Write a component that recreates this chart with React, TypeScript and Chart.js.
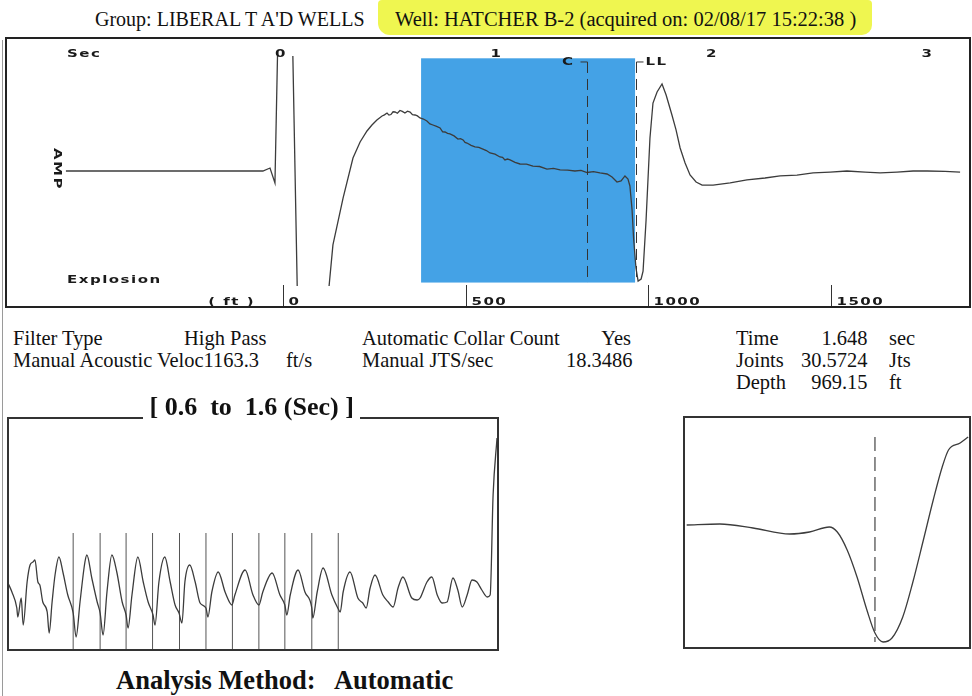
import React, { useEffect, useRef } from "react";
import { Chart, registerables } from "chart.js";

Chart.register(...registerables);

// ---------------- DATA ----------------
// Main acoustic trace (time in sec, amplitude in relative units)
const traceTime = [
  -0.998, -0.084, -0.051, -0.028, -0.011, 0.019, 0.051, 0.079, 0.144, 0.204,
  0.241, 0.288, 0.334, 0.367, 0.399, 0.422, 0.445, 0.469, 0.48, 0.492, 0.501, 0.51,
  0.52, 0.529, 0.54, 0.552, 0.563, 0.575, 0.587, 0.599, 0.61, 0.622, 0.633, 0.645, 0.661, 0.677, 0.691, 0.705, 0.722, 0.738, 0.75, 0.761,
  0.773, 0.784, 0.803, 0.821, 0.833, 0.845, 0.854, 0.863, 0.882, 0.9, 0.918, 0.937, 0.953, 0.97, 0.993, 1.016, 1.028, 1.039, 1.051, 1.063,
  1.086, 1.109, 1.139, 1.169, 1.2, 1.234, 1.264, 1.295, 1.33, 1.364, 1.392, 1.42, 1.45, 1.48, 1.513, 1.536, 1.559,
  1.578, 1.596, 1.61, 1.619, 1.629, 1.636, 1.647, 1.657, 1.671, 1.68,
  1.694, 1.712, 1.726, 1.745, 1.768, 1.787, 1.814, 1.833, 1.852, 1.875,
  1.898, 1.926, 1.954, 2.005, 2.084, 2.162, 2.246, 2.316, 2.394, 2.469,
  2.548, 2.626, 2.71, 2.78, 2.858, 2.933, 2.998, 3.081, 3.151,
];
const traceAmp = [
  0, 0, 2.6, -10.4, 149, 201, 140, -138, -182, -138,
  -64.3, -23.5, 11.3, 25.2, 34.8, 40, 44.3, 47.8, 48.8, 50.4, 48.6, 49.1,
  51.5, 51.3, 50.2, 52.6, 51.8, 50.4, 52.0, 51.3, 49.0, 48.7, 47.9, 46.1, 45.2, 43.5, 41.0, 40, 38.8, 37.4, 34.0, 33.9,
  32.8, 32.2, 30.5, 27.8, 28.2, 27, 24.8, 24.3, 22.3, 20.9, 20.6, 19.1, 17.8, 15.7, 14.6, 12.2, 11.8, 9.6, 10.4, 9.6,
  7.5, 6.1, 6.0, 4.3, 3.9, 1.7, 2.2, 0.9, 0.8, 0, 0.5, -1.3, -0.6, -1.7, -2.6, -5.2, -9.6,
  -8.7, -4.3, -7, -13, -33.9, -58.3, -84.3, -95.7, -93.9, -87,
  -42.6, 28.7, 59.1, 68.7, 75.7, 66.1, 48.7, 35.7, 20, 7,
  -3.5, -9.6, -12.2, -12.2, -10.4, -7.8, -6.1, -4.3, -3.5, -1.7,
  -0.9, 0, -0.9, -1.7, -0.9, 0, 0, -0.4, -0.9,
];
const secTicks = [0, 1, 2, 3];
const ftTicks = [0, 500, 1000, 1500];
const windowStart = 0.65; // sec
const windowEnd = 1.643; // sec
const windowTop = 98;
const windowBottom = -97;
const markerTimes = [1.42, 1.648];
const markerLabels = ["C", "LL"];

// Collar detail window 0.6 - 1.6 sec
const detailTime = [
  0.6, 0.608, 0.618, 0.62, 0.627, 0.631, 0.639, 0.645, 0.651, 0.655,
  0.661, 0.665, 0.671, 0.68, 0.684, 0.69, 0.696, 0.704, 0.712, 0.722,
  0.733, 0.739, 0.747, 0.757, 0.761, 0.771, 0.782, 0.788, 0.794, 0.802,
  0.812, 0.822, 0.833, 0.841, 0.845, 0.853, 0.865, 0.876, 0.886, 0.896,
  0.9, 0.908, 0.92, 0.931, 0.941, 0.949, 0.955, 0.961, 0.971, 0.982,
  0.992, 1.004, 1.008, 1.016, 1.029, 1.043, 1.053, 1.057, 1.063, 1.084,
  1.1, 1.112, 1.12, 1.139, 1.155, 1.165, 1.169, 1.176, 1.192, 1.206,
  1.22, 1.222, 1.231, 1.243, 1.261, 1.273, 1.278, 1.284, 1.298, 1.314,
  1.324, 1.331, 1.339, 1.349, 1.365, 1.376, 1.386, 1.396, 1.406, 1.424,
  1.435, 1.441, 1.455, 1.465, 1.476, 1.486, 1.496, 1.508, 1.518, 1.527,
  1.537, 1.547, 1.557, 1.567, 1.578, 1.584, 1.59, 1.598,
];
const detailAmp = [
  7, -2, -18, -27, -8, -35, 8, 25, 28, 30,
  8, 5, -12, -22, -43, -12, 15, 33, 18, -5,
  -23, -47, -12, 28, 35, 12, -12, -23, -45, -2,
  35, 18, -12, -25, -38, -5, 33, 8, -12, -25,
  -35, 8, 33, 8, -15, -23, -33, 8, 25, 8,
  -13, -18, -27, -2, 18, -2, -13, -15, -5, 20,
  -5, -15, -2, 17, -5, -15, -25, -5, 20, -2,
  -18, -28, -2, 22, -5, -18, -22, -2, 18, -8,
  -13, -18, 2, 15, -5, -12, -17, 2, 13, -8,
  -10, -8, 8, 13, -5, -13, -12, 12, 0, -17,
  -5, 10, 8, 0, -7, -5, 95, 152,
];
const collarTimes = [0.733, 0.788, 0.841, 0.895, 0.95, 1.004, 1.058, 1.112, 1.165, 1.22, 1.274];
const collarBottom = -60;
const collarTop = 57;

// Liquid level zoom
const zoomTime = [
  1.438, 1.475, 1.512, 1.553, 1.575, 1.597, 1.606, 1.617, 1.628, 1.639,
  1.648, 1.657, 1.667, 1.679, 1.69, 1.702, 1.713, 1.723, 1.73, 1.743, 1.752,
];
const zoomAmp = [
  9, 10, 6, 0, 2, 7, 2, -16, -43, -76,
  -99, -108, -104, -83, -49, -6, 34, 67, 84, 91, 97,
];
const liquidLevelTime = 1.648;
const zoomMarkerTop = 97;
const zoomMarkerBottom = -108;

// Text values
const groupName = "LIBERAL T A'D WELLS";
const wellName = "HATCHER B-2";
const acquiredOn = "02/08/17 15:22:38";
const filterType = "High Pass";
const acousticVelocity = "1163.3";
const collarCount = "Yes";
const jtsPerSec = "18.3486";
const timeSec = "1.648";
const joints = "30.5724";
const depthFt = "969.15";
const detailRange = ["0.6", "1.6"];
const analysisMethod = "Automatic";

// ---------------- HELPERS ----------------
const LINE = "#3c3c3c";

function wideText(
  ctx: CanvasRenderingContext2D,
  text: string,
  x: number,
  y: number,
  align: CanvasTextAlign = "left",
  rot = 0
) {
  ctx.save();
  ctx.translate(x, y);
  if (rot) ctx.rotate(rot);
  ctx.scale(1.5, 1);
  ctx.font = 'bold 10px "DejaVu Sans"';
  (ctx as any).letterSpacing = "1px";
  ctx.textAlign = align;
  ctx.textBaseline = "middle";
  ctx.fillStyle = "#1a1a1a";
  ctx.fillText(text, 0, 0);
  ctx.restore();
}

function baseOptions(xmin: number, xmax: number, ymin: number, ymax: number, padding: any) {
  return {
    responsive: false,
    animation: false as const,
    events: [] as any[],
    layout: { padding },
    plugins: { legend: { display: false }, tooltip: { enabled: false } },
    scales: {
      x: { type: "linear" as const, min: xmin, max: xmax, display: false },
      y: { type: "linear" as const, min: ymin, max: ymax, display: false },
    },
  };
}

// ---------------- MAIN CHART ----------------
function MainChart() {
  const ref = useRef<HTMLCanvasElement>(null);
  useEffect(() => {
    const overlay = {
      id: "overlay",
      beforeDatasetsDraw(chart: any) {
        const c = chart.ctx as CanvasRenderingContext2D;
        const xs = chart.scales.x;
        const ys = chart.scales.y;
        const x0 = xs.getPixelForValue(windowStart);
        const x1 = xs.getPixelForValue(windowEnd);
        const y0 = ys.getPixelForValue(windowTop);
        const y1 = ys.getPixelForValue(windowBottom);
        c.save();
        c.fillStyle = "#44a2e6";
        c.fillRect(x0, y0, x1 - x0, y1 - y0);
        c.restore();
      },
      afterDatasetsDraw(chart: any) {
        const c = chart.ctx as CanvasRenderingContext2D;
        const xs = chart.scales.x;
        const ys = chart.scales.y;
        const xf = chart.scales.xf;
        const H = chart.height;
        c.save();
        c.strokeStyle = "#333";
        c.lineWidth = 1;
        markerTimes.forEach((t, i) => {
          const px = Math.round(xs.getPixelForValue(t)) + 0.5;
          const yTop = ys.getPixelForValue(94.8);
          const yBot = ys.getPixelForValue(-97.4);
          c.setLineDash([11, 6]);
          c.beginPath();
          c.moveTo(px, yTop);
          c.lineTo(px, yBot);
          c.stroke();
          c.setLineDash([]);
          c.beginPath();
          if (i === 0) {
            c.moveTo(px - 7, yTop);
            c.lineTo(px, yTop);
          } else {
            c.moveTo(px, yTop);
            c.lineTo(px + 7, yTop);
          }
          c.stroke();
          if (i === 0) wideText(c, markerLabels[i], px - 13, yTop, "right");
          else wideText(c, markerLabels[i], px + 9, yTop, "left");
        });
        // ft axis
        c.lineWidth = 1;
        ftTicks.forEach((v) => {
          const px = Math.round(xf.getPixelForValue(v)) + 0.5;
          c.beginPath();
          c.moveTo(px, H - 21);
          c.lineTo(px, H);
          c.stroke();
          wideText(c, String(v), px + 5, H - 4, "left");
        });
        wideText(c, "( ft )", xf.getPixelForValue(0) - 28, H - 4, "right");
        // sec axis
        secTicks.forEach((t) => {
          wideText(c, String(t), xs.getPixelForValue(t), 16, "center");
        });
        wideText(c, "Sec", 61, 16, "left");
        wideText(c, "Explosion", 61, 242, "left");
        wideText(c, "AMP", 51, 131, "center", Math.PI / 2);
        c.restore();
      },
    };
    const opts: any = baseOptions(-1.276, 3.197, -100, 100, { top: 18, bottom: 20, left: 0, right: 0 });
    opts.scales.xf = { type: "linear", axis: "x", position: "bottom", min: -758, max: 1880, display: false };
    const chart = new Chart(ref.current!, {
      type: "line",
      data: {
        datasets: [
          {
            data: traceTime.map((t, i) => ({ x: t, y: traceAmp[i] })),
            borderColor: LINE,
            borderWidth: 1.3,
            pointRadius: 0,
            tension: 0,
          },
        ],
      },
      options: opts,
      plugins: [overlay],
    });
    return () => chart.destroy();
  }, []);
  return (
    <canvas
      ref={ref}
      width={964}
      height={268}
      style={{ position: "absolute", left: 6, top: 38, width: 964, height: 268 }}
    />
  );
}

// ---------------- DETAIL CHART ----------------
function DetailChart() {
  const ref = useRef<HTMLCanvasElement>(null);
  useEffect(() => {
    const opts: any = baseOptions(0.6, 1.6, -60, 172, 0);
    const chart = new Chart(ref.current!, {
      type: "line",
      data: {
        datasets: [
          {
            data: detailTime.map((t, i) => ({ x: t, y: detailAmp[i] })),
            borderColor: LINE,
            borderWidth: 1.3,
            pointRadius: 0,
            cubicInterpolationMode: "monotone",
          },
          ...collarTimes.map((t) => ({
            data: [
              { x: t, y: collarBottom },
              { x: t, y: collarTop },
            ],
            borderColor: "#555",
            borderWidth: 1,
            pointRadius: 0,
          })),
        ],
      },
      options: opts,
    });
    return () => chart.destroy();
  }, []);
  return (
    <canvas
      ref={ref}
      width={490}
      height={232}
      style={{ position: "absolute", left: 8, top: 418, width: 490, height: 232 }}
    />
  );
}

// ---------------- ZOOM CHART ----------------
function ZoomChart() {
  const ref = useRef<HTMLCanvasElement>(null);
  useEffect(() => {
    const opts: any = baseOptions(1.435, 1.754, -114, 117, 0);
    const chart = new Chart(ref.current!, {
      type: "line",
      data: {
        datasets: [
          {
            data: zoomTime.map((t, i) => ({ x: t, y: zoomAmp[i] })),
            borderColor: LINE,
            borderWidth: 1.3,
            pointRadius: 0,
            cubicInterpolationMode: "monotone",
          },
          {
            data: [
              { x: liquidLevelTime, y: zoomMarkerTop },
              { x: liquidLevelTime, y: zoomMarkerBottom },
            ],
            borderColor: "#444",
            borderWidth: 1.2,
            borderDash: [14, 6],
            pointRadius: 0,
          },
        ],
      },
      options: opts,
    });
    return () => chart.destroy();
  }, []);
  return (
    <canvas
      ref={ref}
      width={286}
      height={231}
      style={{ position: "absolute", left: 684, top: 417, width: 286, height: 231 }}
    />
  );
}

// ---------------- TEXT ----------------
function T(props: {
  x?: number;
  r?: number;
  y: number;
  size?: number;
  bold?: boolean;
  sx?: number;
  bg?: string;
  children: React.ReactNode;
}) {
  const { x, r, y, size = 22, bold = false, sx = 0.93, bg, children } = props;
  const style: React.CSSProperties = {
    position: "absolute",
    top: y,
    fontFamily: '"Liberation Serif", "Times New Roman", serif',
    fontSize: size,
    lineHeight: `${size}px`,
    fontWeight: bold ? 700 : 400,
    whiteSpace: "pre",
    color: "#111",
    transform: `scaleX(${sx})`,
    transformOrigin: r !== undefined ? "right center" : "left center",
    background: bg,
  };
  if (r !== undefined) style.right = 972 - r;
  else style.left = x;
  return <div style={style}>{children}</div>;
}

export default function App() {
  return (
    <div
      style={{
        position: "absolute",
        left: 0,
        top: 0,
        width: 972,
        height: 696,
        overflow: "hidden",
        background: "#fff",
      }}
    >
      {/* highlight */}
      <div
        style={{
          position: "absolute",
          left: 378,
          top: 0,
          width: 494,
          height: 35,
          background: "#eff650",
          borderRadius: "4px 4px 10px 12px",
        }}
      />
      <T x={95} y={9} size={20} sx={1}>{`Group: ${groupName}`}</T>
      <T x={395} y={9} size={20} sx={1.025}>{`Well: ${wellName} (acquired on: ${acquiredOn} )`}</T>

      {/* scan edge */}
      <div style={{ position: "absolute", left: 2, top: 40, width: 1, height: 656, background: "#9a9a9a" }} />

      <MainChart />
      <div
        style={{
          position: "absolute",
          left: 5,
          top: 37,
          width: 966,
          height: 271,
          border: "2px solid #222",
          boxSizing: "border-box",
        }}
      />

      {/* info block */}
      <T x={13} y={327}>Filter Type</T>
      <T x={184} y={327}>{filterType}</T>
      <T x={362} y={327}>Automatic Collar Count</T>
      <T r={631} y={327}>{collarCount}</T>
      <T x={736} y={327}>Time</T>
      <T r={867} y={327}>{timeSec}</T>
      <T x={889} y={327}>sec</T>

      <T x={13} y={349}>{`Manual Acoustic Veloc${acousticVelocity}`}</T>
      <T x={286} y={349}>ft/s</T>
      <T x={362} y={349}>Manual JTS/sec</T>
      <T r={632} y={349}>{jtsPerSec}</T>
      <T x={736} y={349}>Joints</T>
      <T r={867} y={349}>{joints}</T>
      <T x={889} y={349}>Jts</T>

      <T x={736} y={371}>Depth</T>
      <T r={867} y={371}>{depthFt}</T>
      <T x={889} y={371}>ft</T>

      {/* detail chart */}
      <DetailChart />
      <div
        style={{
          position: "absolute",
          left: 7,
          top: 417,
          width: 492,
          height: 234,
          border: "2px solid #333",
          boxSizing: "border-box",
        }}
      />
      <T x={143} y={394} size={26} bold sx={1} bg="#fff">{` [ ${detailRange[0]}  to  ${detailRange[1]} (Sec) ] `}</T>
      <T x={116} y={667} size={26.5} bold sx={1}>{`Analysis Method:   ${analysisMethod}`}</T>

      {/* zoom chart */}
      <ZoomChart />
      <div
        style={{
          position: "absolute",
          left: 683,
          top: 416,
          width: 288,
          height: 233,
          border: "2px solid #333",
          boxSizing: "border-box",
        }}
      />
    </div>
  );
}
